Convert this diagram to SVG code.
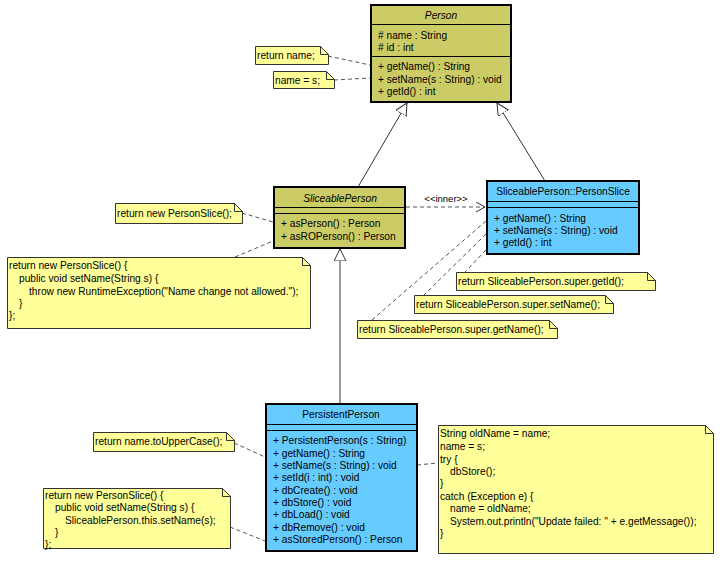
<svg xmlns="http://www.w3.org/2000/svg" width="722" height="563" viewBox="0 0 722 563">
<defs>
<style>
text{font-family:"Liberation Sans",Arial,sans-serif;font-size:10.2px;fill:#000}
.it{font-style:italic}
.mid{text-anchor:middle}
.olive{fill:#CCCC66;stroke:#000;stroke-width:2}
.blue{fill:#66CCFF;stroke:#000;stroke-width:2}
.sep{stroke:#000;stroke-width:1;fill:none}
.note{fill:#FFFF99;stroke:#333;stroke-width:1}
.fold{fill:none;stroke:#333;stroke-width:1}
.dash{stroke:#555;stroke-width:1;stroke-dasharray:4,3;fill:none}
.gen{stroke:#333;stroke-width:1;fill:none}
</style>
<marker id="tri" markerUnits="userSpaceOnUse" markerWidth="14" markerHeight="14" refX="12" refY="6" orient="auto">
<path d="M0,0 L12,6 L0,12 Z" fill="#fff" stroke="#333" stroke-width="1"/>
</marker>
<marker id="open" markerUnits="userSpaceOnUse" markerWidth="12" markerHeight="12" refX="9" refY="5" orient="auto">
<path d="M0,0 L9,5 L0,10" fill="none" stroke="#333" stroke-width="1"/>
</marker>
</defs>
<rect width="722" height="563" fill="#fff"/>

<g id="connectors">
<path class="gen" d="M358,187 L407,103" marker-end="url(#tri)"/>
<path class="gen" d="M545,181 L497,103" marker-end="url(#tri)"/>
<path class="gen" d="M340,404 L340,249" marker-end="url(#tri)"/>
<path class="dash" d="M406,207 L485,207" marker-end="url(#open)"/>
<text x="446" y="202" class="mid" style="font-size:9.5px">&lt;&lt;inner&gt;&gt;</text>
<path class="dash" d="M328,56 L370,65"/>
<path class="dash" d="M334,80 L370,78"/>
<path class="dash" d="M242,213 L273,222"/>
<path class="dash" d="M235,257 L273,241"/>
<path class="dash" d="M486,250 L465,272"/>
<path class="dash" d="M486,234 L424,295"/>
<path class="dash" d="M486,221 L372,320"/>
<path class="dash" d="M234,443 L265,457"/>
<path class="dash" d="M230,527 L265,541"/>
<path class="dash" d="M417,465 L438,463"/>
</g>

<g id="Person">
<rect class="olive" x="371" y="5" width="140" height="97"/>
<path class="sep" d="M371,24.5 H511 M371,56.5 H511"/>
<text x="441" y="19" class="it mid">Person</text>
<text x="378" y="39"># name : String</text>
<text x="378" y="51"># id : int</text>
<text x="378" y="70">+ getName() : String</text>
<text x="378" y="83">+ setName(s : String) : void</text>
<text x="378" y="95">+ getId() : int</text>
</g>

<g id="SliceablePerson">
<rect class="olive" x="274" y="187" width="131" height="61"/>
<path class="sep" d="M274,207.5 H405 M274,213.5 H405"/>
<text x="340" y="202" class="it mid">SliceablePerson</text>
<text x="281" y="227">+ asPerson() : Person</text>
<text x="281" y="240">+ asROPerson() : Person</text>
</g>

<g id="PersonSlice">
<rect class="blue" x="487" y="181" width="152" height="73"/>
<path class="sep" d="M487,201.5 H639 M487,207.5 H639"/>
<text x="563" y="195" class="mid">SliceablePerson::PersonSlice</text>
<text x="494" y="222">+ getName() : String</text>
<text x="494" y="234">+ setName(s : String) : void</text>
<text x="494" y="246">+ getId() : int</text>
</g>

<g id="PersistentPerson">
<rect class="blue" x="266" y="404" width="151" height="147"/>
<path class="sep" d="M266,424.5 H417 M266,430.5 H417"/>
<text x="341" y="418" class="mid">PersistentPerson</text>
<text x="273" y="444">+ PersistentPerson(s : String)</text>
<text x="273" y="456.5">+ getName() : String</text>
<text x="273" y="469">+ setName(s : String) : void</text>
<text x="273" y="481">+ setId(i : int) : void</text>
<text x="273" y="493.5">+ dbCreate() : void</text>
<text x="273" y="506">+ dbStore() : void</text>
<text x="273" y="518">+ dbLoad() : void</text>
<text x="273" y="530.5">+ dbRemove() : void</text>
<text x="273" y="543">+ asStoredPerson() : Person</text>
</g>

<g id="note-return-name">
<path class="note" d="M255.5,46.5 H320.5 L328.5,54.5 V64.5 H255.5 Z"/>
<path class="fold" d="M320.5,46.5 V54.5 H328.5"/>
<text x="257" y="59">return name;</text>
</g>

<g id="note-name-s">
<path class="note" d="M273.5,71.5 H326.5 L334.5,79.5 V88.5 H273.5 Z"/>
<path class="fold" d="M326.5,71.5 V79.5 H334.5"/>
<text x="275" y="84">name = s;</text>
</g>

<g id="note-return-slice">
<path class="note" d="M115.5,203.5 H234.5 L242.5,211.5 V223.5 H115.5 Z"/>
<path class="fold" d="M234.5,203.5 V211.5 H242.5"/>
<text x="117" y="217">return new PersonSlice();</text>
</g>

<g id="note-ro-slice">
<path class="note" d="M7.5,257.5 H302.5 L310.5,265.5 V328.5 H7.5 Z"/>
<path class="fold" d="M302.5,257.5 V265.5 H310.5"/>
<text x="9" y="269">return new PersonSlice() {</text>
<text x="19" y="282">public void setName(String s) {</text>
<text x="29" y="295">throw new RuntimeException("Name change not allowed.");</text>
<text x="19" y="307">}</text>
<text x="9" y="319">};</text>
</g>

<g id="note-getid">
<path class="note" d="M456.5,272.5 H647.5 L655.5,280.5 V290.5 H456.5 Z"/>
<path class="fold" d="M647.5,272.5 V280.5 H655.5"/>
<text x="458" y="285">return SliceablePerson.super.getId();</text>
</g>

<g id="note-setname">
<path class="note" d="M414.5,295.5 H605.5 L613.5,303.5 V313.5 H414.5 Z"/>
<path class="fold" d="M605.5,295.5 V303.5 H613.5"/>
<text x="416" y="308">return SliceablePerson.super.setName();</text>
</g>

<g id="note-getname">
<path class="note" d="M357.5,320.5 H549.5 L557.5,328.5 V338.5 H357.5 Z"/>
<path class="fold" d="M549.5,320.5 V328.5 H557.5"/>
<text x="359" y="333">return SliceablePerson.super.getName();</text>
</g>

<g id="note-uppercase">
<path class="note" d="M93.5,432.5 H226.5 L234.5,440.5 V451.5 H93.5 Z"/>
<path class="fold" d="M226.5,432.5 V440.5 H234.5"/>
<text x="95" y="445">return name.toUpperCase();</text>
</g>

<g id="note-stored-slice">
<path class="note" d="M43.5,488.5 H222.5 L230.5,496.5 V548.5 H43.5 Z"/>
<path class="fold" d="M222.5,488.5 V496.5 H230.5"/>
<text x="45" y="499">return new PersonSlice() {</text>
<text x="55" y="511">public void setName(String s) {</text>
<text x="65" y="524">SliceablePerson.this.setName(s);</text>
<text x="55" y="536">}</text>
<text x="45" y="548">};</text>
</g>

<g id="note-setname-impl">
<path class="note" d="M438.5,425.5 H705.5 L713.5,433.5 V553.5 H438.5 Z"/>
<path class="fold" d="M705.5,425.5 V433.5 H713.5"/>
<text x="440" y="437">String oldName = name;</text>
<text x="440" y="450">name = s;</text>
<text x="440" y="463">try {</text>
<text x="450" y="475">dbStore();</text>
<text x="440" y="487">}</text>
<text x="440" y="500">catch (Exception e) {</text>
<text x="450" y="512">name = oldName;</text>
<text x="450" y="525">System.out.println("Update failed: " + e.getMessage());</text>
<text x="440" y="537">}</text>
</g>
</svg>
